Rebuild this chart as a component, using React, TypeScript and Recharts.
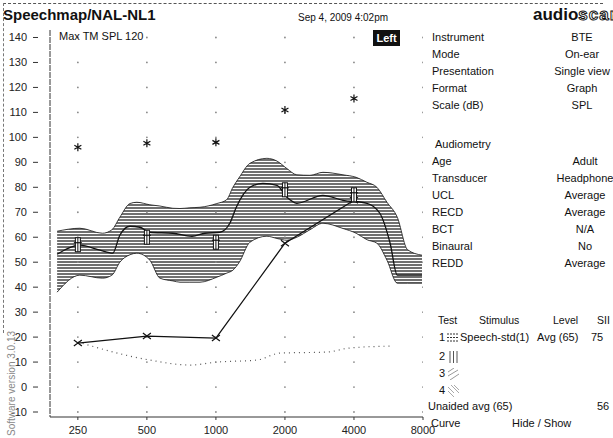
import React from 'react';
import { ComposedChart, Area, Line, Scatter, XAxis, YAxis } from 'recharts';

// speech band (hatched), read at common frequencies
const bandFreq = [203, 255, 320, 352, 381, 422, 452, 515, 570, 649, 697, 770, 852, 1010, 1113, 1186, 1265, 1407, 1669, 1846, 2040, 2254, 2571, 2929, 3582, 4087, 4557, 5036, 5572, 6180, 6850, 7920];
const bandHigh = [62.4, 63.6, 61.6, 63, 68, 73.5, 74, 73, 72.5, 71.6, 71.5, 71.8, 72, 73.5, 75, 80, 84, 89.6, 91.6, 90.5, 87.5, 85, 84.8, 86, 85, 84, 82, 80, 74, 68, 55, 52.8];
const bandLow = [38, 44.8, 43.6, 44.8, 50, 53, 53.6, 50.8, 43.6, 42.5, 42, 42, 42, 44, 45.6, 46.8, 50, 58, 60.4, 59.5, 58.8, 60, 63, 65.6, 63.5, 61.6, 59, 57.6, 50.8, 41.6, 41.6, 41.6];

// long-term average speech line
const ltFreq = [203, 255, 312, 355, 381, 422, 466, 515, 649, 786, 895, 1041, 1150, 1227, 1407, 1603, 1846, 2040, 2254, 2929, 3582, 4557, 5186, 5750, 6180, 7920];
const ltVal = [53.2, 56.8, 54.8, 53.6, 60.8, 64.4, 64, 62, 61.6, 60.4, 61.6, 62, 65.6, 72, 80, 81.6, 80.8, 76, 73.6, 76.8, 74.8, 73.6, 69.6, 57.6, 44.8, 44.8];

// audiometric frequencies
const audFreq = [250, 500, 1000, 2000, 4000];
const threshold = [17.6, 20.4, 19.6, 57.6, 74.8];
const ucl = [96, 97.6, 98, 111, 115.6];
const targets = [57, 60, 58, 79, 77];

// normal hearing (dotted)
const normFreq = [250, 515, 770, 1010, 1510, 1904, 3049, 3810, 5750];
const normVal = [18, 10.8, 8.8, 10, 10.8, 13.6, 14, 15.6, 16.4];

const xTicks = [250, 500, 1000, 2000, 4000, 8000];
const yTicks = [-10, 0, 10, 20, 30, 40, 50, 60, 70, 80, 90, 100, 110, 120, 130, 140];

const infoLabels = ['Instrument', 'Mode', 'Presentation', 'Format', 'Scale (dB)'];
const infoValues = ['BTE', 'On-ear', 'Single view', 'Graph', 'SPL'];
const audLabels = ['Age', 'Transducer', 'UCL', 'RECD', 'BCT', 'Binaural', 'REDD'];
const audValues = ['Adult', 'Headphone', 'Average', 'Average', 'N/A', 'No', 'Average'];

const bandData = bandFreq.map((f, i) => ({ f, range: [bandLow[i], bandHigh[i]] }));
const ltData = ltFreq.map((f, i) => ({ f, v: ltVal[i] }));
const thrData = audFreq.map((f, i) => ({ f, v: threshold[i] }));
const uclData = audFreq.map((f, i) => ({ f, v: ucl[i] }));
const tgtData = audFreq.map((f, i) => ({ f, v: targets[i] }));
const normData = normFreq.map((f, i) => ({ f, v: normVal[i] }));
const gridData = xTicks.flatMap(f => yTicks.map(v => ({ f, v })));

const FONT = '"Liberation Sans", Arial, sans-serif';

const YTick = (props: any) => {
  const { x, y, payload } = props;
  return (
    <g>
      <text x={x - 23} y={y} dy={4} textAnchor="end" fontSize={11} fill="#222" fontFamily={FONT}>{payload.value}</text>
      <line x1={x - 17} x2={x - 12} y1={y} y2={y} stroke="#333" strokeWidth={1} />
    </g>
  );
};

const XMark = (props: any) => {
  const { cx, cy } = props;
  if (cx == null || cy == null) return null;
  return <path d={`M${cx - 4},${cy - 3}L${cx + 4},${cy + 3}M${cx - 4},${cy + 3}L${cx + 4},${cy - 3}`} stroke="#111" strokeWidth={1.2} fill="none" />;
};

const Star = (props: any) => {
  const { cx, cy } = props;
  if (cx == null || cy == null) return null;
  return (
    <path d={`M${cx},${cy - 4}L${cx},${cy + 4}M${cx - 3.5},${cy - 2}L${cx + 3.5},${cy + 2}M${cx - 3.5},${cy + 2}L${cx + 3.5},${cy - 2}`} stroke="#111" strokeWidth={1.2} fill="none" />
  );
};

const Target = (props: any) => {
  const { cx, cy } = props;
  if (cx == null || cy == null) return null;
  return (
    <g>
      <rect x={cx - 2.5} y={cy - 7} width={5} height={14} fill="#fff" stroke="#111" strokeWidth={1} />
      <line x1={cx - 4} x2={cx + 4} y1={cy - 2} y2={cy - 2} stroke="#111" strokeWidth={1.2} />
      <line x1={cx} x2={cx} y1={cy - 7} y2={cy + 7} stroke="#111" strokeWidth={1} />
    </g>
  );
};

const GridDot = (props: any) => {
  const { cx, cy } = props;
  return <circle cx={cx} cy={cy} r={0.9} fill="#888" />;
};

const T: React.FC<{ x: number; y: number; size?: number; anchor?: 'start' | 'middle' | 'end'; bold?: boolean; children: React.ReactNode; style?: React.CSSProperties }> = ({ x, y, size = 11, anchor = 'start', bold, children, style }) => (
  <div
    style={{
      position: 'absolute',
      left: x,
      top: y - size * 0.6,
      fontSize: size,
      lineHeight: `${size * 1.2}px`,
      fontFamily: FONT,
      fontWeight: bold ? 700 : 400,
      color: '#111',
      whiteSpace: 'nowrap',
      transform: anchor === 'middle' ? 'translateX(-50%)' : anchor === 'end' ? 'translateX(-100%)' : undefined,
      ...style,
    }}
  >
    {children}
  </div>
);

const App: React.FC = () => {
  return (
    <div style={{ position: 'absolute', left: 0, top: 0, width: 613, height: 438, background: '#fff', overflow: 'hidden' }}>
      {/* dashed frame */}
      <div style={{ position: 'absolute', left: 3, top: 3, width: 600, height: 0, borderTop: '1px dashed #555' }} />
      <div style={{ position: 'absolute', left: 3, top: 3, width: 0, height: 330, borderLeft: '1px dashed #777' }} />

      <div style={{ position: 'absolute', left: 0, top: 0 }}>
        <ComposedChart width={440} height={438} margin={{ top: 30, right: 17, bottom: 3, left: 0 }}>
          <defs>
            <pattern id="hatch" width="6" height="3" patternUnits="userSpaceOnUse">
              <rect width="6" height="3" fill="#fff" />
              <line x1="0" x2="6" y1="1" y2="1" stroke="#222" strokeWidth="1.3" />
            </pattern>
          </defs>
          <XAxis
            dataKey="f"
            type="number"
            scale="log"
            domain={[189, 8000]}
            ticks={xTicks}
            allowDataOverflow
            height={18}
            tickSize={3}
            tickMargin={6}
            stroke="#333"
            tick={{ fontSize: 11, fill: '#222', fontFamily: FONT }}
          />
          <YAxis
            dataKey="v"
            type="number"
            domain={[-12, 143]}
            ticks={yTicks}
            allowDataOverflow
            width={50}
            tickSize={0}
            tickMargin={0}
            tickLine={false}
            axisLine={{ stroke: '#333', strokeDasharray: '6 1' }}
            tick={<YTick />}
          />
          <Scatter data={gridData} dataKey="v" shape={<GridDot />} isAnimationActive={false} />
          <Area data={bandData} dataKey="range" type="monotone" stroke="#111" strokeWidth={0.8} fill="url(#hatch)" fillOpacity={1} isAnimationActive={false} />
          <Line data={ltData} dataKey="v" type="monotone" stroke="#111" strokeWidth={1.3} dot={false} isAnimationActive={false} />
          <Line data={normData} dataKey="v" type="monotone" stroke="#555" strokeWidth={1.2} strokeDasharray="1 4" dot={false} isAnimationActive={false} />
          <Line data={thrData} dataKey="v" type="linear" stroke="#111" strokeWidth={1.3} dot={<XMark />} isAnimationActive={false} />
          <Line data={tgtData} dataKey="v" stroke="none" dot={<Target />} isAnimationActive={false} />
          <Line data={uclData} dataKey="v" stroke="none" dot={<Star />} isAnimationActive={false} />
        </ComposedChart>
      </div>

      {/* header */}
      <T x={3} y={15} size={15} bold>Speechmap/NAL-NL1</T>
      <T x={59} y={37} size={11}>Max TM SPL 120</T>
      <T x={298} y={18} size={10}>Sep 4, 2009 4:02pm</T>
      <div style={{ position: 'absolute', left: 533, top: 5, fontFamily: FONT, fontWeight: 700, fontSize: 17, lineHeight: '20px', whiteSpace: 'nowrap' }}>
        <span style={{ color: '#111' }}>audio</span>
        <span style={{ color: '#fff', WebkitTextStroke: '1px #111', letterSpacing: 1 }}>scan</span>
      </div>
      <div style={{ position: 'absolute', left: 373, top: 30, width: 27, height: 16, background: '#111', color: '#fff', fontFamily: FONT, fontWeight: 700, fontSize: 11, lineHeight: '16px', textAlign: 'center' }}>Left</div>

      {/* settings panel */}
      {infoLabels.map((l, i) => (
        <T key={l} x={432} y={38 + i * 17}>{l}</T>
      ))}
      {infoValues.map((v, i) => (
        <T key={v} x={582} y={38 + i * 17} anchor="middle">{v}</T>
      ))}
      <T x={435} y={145}>Audiometry</T>
      {audLabels.map((l, i) => (
        <T key={l} x={432} y={162 + i * 17}>{l}</T>
      ))}
      {audValues.map((v, i) => (
        <T key={'aud-' + i} x={585} y={162 + i * 17} anchor="middle">{v}</T>
      ))}

      {/* test table */}
      <T x={438} y={320} size={10.5}>Test</T>
      <T x={479} y={320} size={10.5}>Stimulus</T>
      <T x={553} y={320} size={10.5}>Level</T>
      <T x={597} y={320} size={10.5}>SII</T>
      <T x={439} y={338}>1</T>
      <svg style={{ position: 'absolute', left: 447, top: 332 }} width={11} height={11}>
        <line x1={0} x2={11} y1={2} y2={2} stroke="#333" strokeDasharray="2 1" />
        <line x1={0} x2={11} y1={5.5} y2={5.5} stroke="#333" strokeDasharray="2 1" />
        <line x1={0} x2={11} y1={9} y2={9} stroke="#333" strokeDasharray="2 1" />
      </svg>
      <T x={460} y={338}>Speech-std(1)</T>
      <T x={537} y={338}>Avg (65)</T>
      <T x={591} y={338}>75</T>
      <T x={439} y={357}>2</T>
      <svg style={{ position: 'absolute', left: 448, top: 351 }} width={11} height={12}>
        <line x1={2} x2={2} y1={0} y2={12} stroke="#555" />
        <line x1={5.5} x2={5.5} y1={0} y2={12} stroke="#555" />
        <line x1={9} x2={9} y1={0} y2={12} stroke="#555" />
      </svg>
      <T x={439} y={374}>3</T>
      <svg style={{ position: 'absolute', left: 448, top: 368 }} width={11} height={12}>
        <path d="M0,4L6,0M0,8L10,2M2,12L11,6" stroke="#999" fill="none" />
      </svg>
      <T x={439} y={391}>4</T>
      <svg style={{ position: 'absolute', left: 448, top: 385 }} width={11} height={12}>
        <path d="M0,2L6,8M0,6L6,12M3,0L11,8M6,0L11,5" stroke="#aaa" fill="none" />
      </svg>
      <T x={428} y={407}>Unaided avg (65)</T>
      <T x={597} y={407}>56</T>
      <T x={431} y={424}>Curve</T>
      <T x={512} y={424}>Hide / Show</T>

      {/* rotated version text */}
      <div style={{ position: 'absolute', left: 7, top: 436, transform: 'rotate(-90deg)', transformOrigin: '0 0', fontFamily: FONT, fontSize: 10, color: '#888', whiteSpace: 'nowrap', lineHeight: '10px' }}>
        Software version 3.0.13
      </div>
    </div>
  );
};

export default App;
